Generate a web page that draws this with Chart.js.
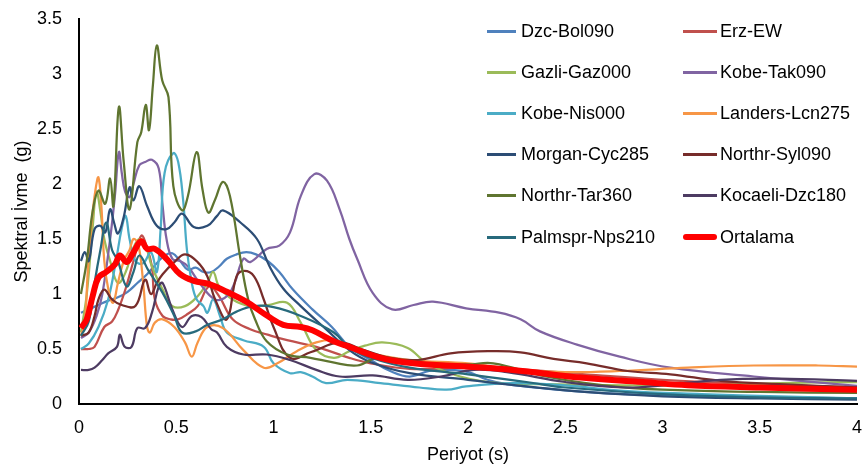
<!DOCTYPE html>
<html>
<head>
<meta charset="utf-8">
<script src="https://cdn.jsdelivr.net/npm/chart.js@4"></script>
<style>
  html, body { margin: 0; padding: 0; background: #ffffff; }
  #wrap { position: relative; width: 864px; height: 468px; overflow: hidden; background:#fff; }
  #c { position: absolute; left: 0; top: 0; }
  .lg-line { position: absolute; }
  .lg-text { position: absolute; white-space: nowrap; font-family: "Liberation Sans", Arial, sans-serif; font-size: 18px; line-height: 20px; color: #000; }
</style>
</head>
<body>
<div id="wrap">
  <canvas id="c" width="864" height="468"></canvas>
  <div id="legend"></div>
</div>
<script>
// ---- Data: [period (s), spectral acceleration (g)] ----
const dzcBol090 = [[0.01,0.83],[0.05,0.86],[0.1,0.9],[0.15,0.94],[0.2,0.97],[0.25,1.02],[0.3,1.1],[0.35,1.18],[0.4,1.28],[0.44,1.35],[0.48,1.37],[0.52,1.3],[0.56,1.22],[0.6,1.24],[0.64,1.2],[0.68,1.2],[0.72,1.25],[0.76,1.32],[0.81,1.36],[0.86,1.38],[0.91,1.36],[0.97,1.3],[1.03,1.2],[1.1,1.04],[1.2,0.86],[1.3,0.7],[1.39,0.52],[1.5,0.4],[1.6,0.3],[1.7,0.25],[1.8,0.3],[1.9,0.31],[2.0,0.29],[2.1,0.22],[2.2,0.18],[2.4,0.14],[2.6,0.11],[2.8,0.09],[3.0,0.08],[3.3,0.07],[3.6,0.06],[4.0,0.05]];
const erzEW = [[0.01,0.5],[0.05,0.5],[0.08,0.52],[0.13,0.7],[0.17,0.75],[0.2,0.85],[0.24,1.05],[0.28,1.3],[0.32,1.53],[0.35,1.42],[0.375,1.25],[0.39,0.95],[0.43,0.8],[0.47,0.77],[0.51,0.77],[0.56,0.82],[0.61,0.89],[0.67,1.07],[0.72,0.98],[0.79,0.77],[0.88,0.68],[0.97,0.63],[1.07,0.58],[1.22,0.52],[1.39,0.42],[1.5,0.37],[1.7,0.32],[2.0,0.33],[2.3,0.31],[2.6,0.27],[3.0,0.22],[3.5,0.18],[4.0,0.15]];
const gazliGaz000 = [[0.01,0.65],[0.04,1.0],[0.07,1.6],[0.09,1.93],[0.11,1.75],[0.13,1.5],[0.16,1.3],[0.2,1.1],[0.24,1.2],[0.28,1.42],[0.31,1.5],[0.34,1.45],[0.375,1.25],[0.43,1.04],[0.48,0.89],[0.545,0.89],[0.61,0.98],[0.66,1.1],[0.69,1.2],[0.72,1.07],[0.79,0.95],[0.88,0.89],[0.97,0.9],[1.07,0.92],[1.14,0.74],[1.22,0.49],[1.31,0.42],[1.39,0.48],[1.47,0.53],[1.56,0.56],[1.69,0.51],[1.79,0.37],[1.96,0.25],[2.16,0.19],[2.4,0.18],[2.8,0.17],[3.2,0.17],[3.6,0.19],[4.0,0.2]];
const kobeTak090 = [[0.01,0.6],[0.05,0.65],[0.09,0.8],[0.12,1.0],[0.16,1.5],[0.185,1.9],[0.205,2.29],[0.22,2.1],[0.237,1.93],[0.26,1.88],[0.28,2.0],[0.31,2.17],[0.34,2.2],[0.375,2.22],[0.41,2.14],[0.43,1.8],[0.45,1.5],[0.48,1.32],[0.52,1.3],[0.56,1.25],[0.62,1.1],[0.7,0.95],[0.76,0.98],[0.8,1.1],[0.845,1.32],[0.88,1.29],[0.965,1.41],[1.03,1.44],[1.085,1.56],[1.14,1.89],[1.21,2.09],[1.275,2.03],[1.34,1.77],[1.39,1.5],[1.43,1.32],[1.51,1.01],[1.61,0.86],[1.72,0.9],[1.82,0.93],[1.99,0.87],[2.16,0.83],[2.27,0.77],[2.37,0.66],[2.56,0.54],[2.78,0.43],[3.04,0.33],[3.47,0.25],[4.0,0.165]];
const kobeNis000 = [[0.01,0.5],[0.05,0.55],[0.1,0.7],[0.15,0.95],[0.19,1.3],[0.22,1.6],[0.24,1.71],[0.26,1.5],[0.29,1.3],[0.33,1.28],[0.37,1.38],[0.4,1.2],[0.42,1.6],[0.44,2.1],[0.485,2.28],[0.51,2.2],[0.535,1.86],[0.555,1.4],[0.58,1.1],[0.605,0.95],[0.64,0.89],[0.66,0.83],[0.69,0.95],[0.725,0.8],[0.76,0.65],[0.845,0.58],[0.95,0.52],[1.0,0.37],[1.085,0.28],[1.14,0.29],[1.2,0.25],[1.27,0.19],[1.38,0.22],[1.55,0.19],[1.75,0.15],[1.89,0.13],[1.99,0.16],[2.23,0.19],[2.5,0.17],[2.8,0.12],[3.2,0.09],[3.6,0.07],[4.0,0.05]];
const landersLcn275 = [[0.01,0.62],[0.03,0.75],[0.045,1.2],[0.065,1.65],[0.085,1.95],[0.1,2.06],[0.115,1.8],[0.13,1.3],[0.15,1.05],[0.175,0.92],[0.2,1.1],[0.23,1.3],[0.26,1.4],[0.28,1.5],[0.305,1.45],[0.33,1.1],[0.35,0.7],[0.365,0.65],[0.39,0.74],[0.43,0.77],[0.49,0.7],[0.545,0.56],[0.58,0.43],[0.61,0.56],[0.66,0.7],[0.74,0.69],[0.845,0.49],[0.95,0.33],[1.02,0.37],[1.12,0.48],[1.22,0.56],[1.31,0.58],[1.4,0.52],[1.5,0.46],[1.7,0.4],[2.0,0.37],[2.27,0.31],[2.5,0.29],[2.78,0.3],[3.13,0.33],[3.47,0.35],[3.8,0.35],[4.0,0.34]];
const morganCyc285 = [[0.01,1.3],[0.03,1.38],[0.05,1.3],[0.08,1.59],[0.11,1.62],[0.135,1.56],[0.16,1.77],[0.18,1.65],[0.2,1.55],[0.23,1.7],[0.26,1.97],[0.28,1.85],[0.31,1.98],[0.35,1.8],[0.4,1.62],[0.45,1.59],[0.49,1.65],[0.53,1.73],[0.59,1.61],[0.66,1.62],[0.71,1.71],[0.74,1.76],[0.83,1.65],[0.915,1.5],[0.98,1.25],[1.05,1.05],[1.14,0.89],[1.27,0.68],[1.39,0.49],[1.5,0.38],[1.7,0.28],[2.0,0.22],[2.3,0.16],[2.6,0.11],[3.0,0.07],[3.5,0.05],[4.0,0.04]];
const northrSyl090 = [[0.01,0.62],[0.05,0.65],[0.08,0.8],[0.1,0.95],[0.13,1.04],[0.17,0.95],[0.22,0.9],[0.29,0.89],[0.34,1.13],[0.37,1.0],[0.4,1.1],[0.43,1.18],[0.49,1.29],[0.545,1.36],[0.61,1.29],[0.66,1.16],[0.7,0.95],[0.76,0.77],[0.81,1.16],[0.85,1.21],[0.9,1.16],[0.95,0.95],[1.0,0.7],[1.085,0.42],[1.19,0.47],[1.34,0.56],[1.45,0.5],[1.6,0.42],[1.74,0.4],[1.91,0.46],[2.11,0.48],[2.27,0.47],[2.44,0.41],[2.61,0.37],[2.82,0.3],[3.04,0.27],[3.3,0.21],[3.6,0.18],[4.0,0.15]];
const northrTar360 = [[0.01,1.0],[0.04,1.3],[0.07,1.75],[0.1,1.94],[0.135,1.82],[0.16,2.05],[0.177,1.8],[0.205,2.7],[0.23,2.2],[0.26,1.77],[0.3,2.38],[0.32,2.47],[0.343,2.72],[0.36,2.49],[0.38,2.9],[0.4,3.26],[0.428,2.94],[0.46,2.79],[0.485,1.98],[0.53,1.76],[0.56,1.89],[0.605,2.29],[0.635,1.95],[0.665,1.74],[0.7,1.86],[0.74,2.02],[0.776,1.89],[0.83,1.32],[0.87,0.95],[0.905,0.77],[0.965,0.57],[1.07,0.45],[1.19,0.42],[1.3,0.38],[1.43,0.35],[1.53,0.42],[1.65,0.4],[1.8,0.37],[2.0,0.36],[2.13,0.37],[2.4,0.25],[2.7,0.17],[3.0,0.13],[3.5,0.11],[4.0,0.1]];
const kocaeliDzc180 = [[0.01,0.31],[0.05,0.31],[0.08,0.33],[0.12,0.4],[0.15,0.46],[0.195,0.52],[0.21,0.63],[0.235,0.52],[0.27,0.52],[0.3,0.69],[0.34,0.69],[0.375,0.83],[0.41,1.07],[0.43,1.1],[0.48,0.86],[0.53,0.7],[0.58,0.8],[0.63,0.79],[0.68,0.68],[0.71,0.65],[0.76,0.52],[0.845,0.45],[0.965,0.45],[1.085,0.4],[1.22,0.31],[1.34,0.25],[1.51,0.26],[1.69,0.22],[1.86,0.25],[2.03,0.31],[2.2,0.29],[2.5,0.2],[2.8,0.15],[3.0,0.17],[3.3,0.22],[3.6,0.23],[4.0,0.21]];
const palmsprNps210 = [[0.01,0.62],[0.05,0.75],[0.08,1.1],[0.11,1.4],[0.14,1.65],[0.17,1.4],[0.2,1.3],[0.245,1.07],[0.28,1.2],[0.31,1.35],[0.355,1.22],[0.43,1.01],[0.49,0.8],[0.53,0.65],[0.6,0.66],[0.66,0.72],[0.74,0.77],[0.81,0.84],[0.9,0.89],[1.0,0.88],[1.14,0.8],[1.31,0.65],[1.39,0.51],[1.5,0.42],[1.7,0.33],[2.0,0.27],[2.3,0.2],[2.5,0.15],[3.0,0.09],[3.5,0.06],[4.0,0.05]];
const ortalama = [[0.01,0.69],[0.04,0.77],[0.07,0.98],[0.1,1.15],[0.14,1.2],[0.185,1.27],[0.21,1.35],[0.245,1.29],[0.28,1.38],[0.32,1.48],[0.35,1.41],[0.39,1.41],[0.45,1.32],[0.52,1.18],[0.59,1.12],[0.67,1.09],[0.76,1.02],[0.86,0.93],[0.97,0.8],[1.05,0.72],[1.14,0.7],[1.2,0.67],[1.31,0.57],[1.39,0.52],[1.55,0.42],[1.72,0.37],[1.99,0.34],[2.23,0.31],[2.58,0.24],[2.9,0.2],[3.13,0.17],[3.5,0.15],[4.0,0.13]];

const seriesNames = ["Dzc-Bol090","Erz-EW","Gazli-Gaz000","Kobe-Tak090","Kobe-Nis000","Landers-Lcn275","Morgan-Cyc285","Northr-Syl090","Northr-Tar360","Kocaeli-Dzc180","Palmspr-Nps210","Ortalama"];
const seriesData = [dzcBol090, erzEW, gazliGaz000, kobeTak090, kobeNis000, landersLcn275, morganCyc285, northrSyl090, northrTar360, kocaeliDzc180, palmsprNps210, ortalama];
const seriesColors = ["#4F81BD","#C0504D","#9BBB59","#8064A2","#4BACC6","#F79646","#2C4D75","#772C2A","#5F7530","#4D3B62","#276A7C","#FF0000"];
const xTicks = [0, 0.5, 1, 1.5, 2, 2.5, 3, 3.5, 4];
const yTicks = [0, 0.5, 1, 1.5, 2, 2.5, 3, 3.5];

const N = seriesNames.length;
const datasets = seriesNames.map((name, i) => ({
  label: name,
  data: seriesData[i].map(p => ({ x: p[0], y: p[1] })),
  borderColor: seriesColors[i],
  backgroundColor: seriesColors[i],
  borderWidth: i === N - 1 ? 6 : 2.25,
  pointRadius: 0,
  tension: 0.4,
  fill: false,
  order: i === N - 1 ? 0 : N - i
}));

const font = { family: "'Liberation Sans', Arial, sans-serif", size: 18 };

new Chart(document.getElementById('c'), {
  type: 'line',
  data: { datasets },
  options: {
    responsive: false,
    animation: false,
    devicePixelRatio: 1,
    layout: { padding: { top: 19, right: 7, left: 0, bottom: 0 } },
    plugins: { legend: { display: false }, tooltip: { enabled: false } },
    scales: {
      x: {
        type: 'linear',
        min: 0, max: 4,
        afterBuildTicks: s => { s.ticks = xTicks.map(v => ({ value: v })); },
        afterFit: s => { s.height = 64; s.paddingLeft = 0; s.paddingRight = 0; },
        grid: { display: false, drawTicks: false },
        border: { display: true, color: '#000', width: 2 },
        ticks: { color: '#000', font, padding: 13, maxRotation: 0, callback: v => String(v) },
        title: { display: true, text: 'Periyot (s)', color: '#000', font, padding: { top: 0, bottom: 2 } }
      },
      y: {
        type: 'linear',
        min: 0, max: 3.5,
        afterBuildTicks: s => { s.ticks = yTicks.map(v => ({ value: v })); },
        afterFit: s => { s.width = 79; s.paddingTop = 0; s.paddingBottom = 0; },
        grid: { display: false, drawTicks: false },
        border: { display: true, color: '#000', width: 2 },
        ticks: { color: '#000', font, padding: 17, callback: v => String(v) },
        title: { display: true, text: 'Spektral İvme  (g)', color: '#000', font, padding: { top: 11, bottom: 0 } }
      }
    }
  }
});

// ---- Legend (two columns, inside plot area) ----
const legend = document.getElementById('legend');
const colLineLeft = [487, 683], colLineWidth = [29, 34], colTextLeft = [521, 720];
const rowCenters = [31, 72, 113, 154, 195, 237];
seriesNames.forEach((name, i) => {
  const col = i % 2, row = Math.floor(i / 2);
  const cy = rowCenters[row];
  const thick = i === N - 1 ? 6 : 3;
  const line = document.createElement('div');
  line.className = 'lg-line';
  line.style.left = colLineLeft[col] + 'px';
  line.style.width = colLineWidth[col] + 'px';
  line.style.top = (cy - thick / 2) + 'px';
  line.style.height = thick + 'px';
  line.style.background = seriesColors[i];
  if (i === N - 1) line.style.borderRadius = '3px';
  legend.appendChild(line);
  const t = document.createElement('div');
  t.className = 'lg-text';
  t.textContent = name;
  t.style.left = colTextLeft[col] + 'px';
  t.style.top = (cy - 10) + 'px';
  legend.appendChild(t);
});
</script>
</body>
</html>
